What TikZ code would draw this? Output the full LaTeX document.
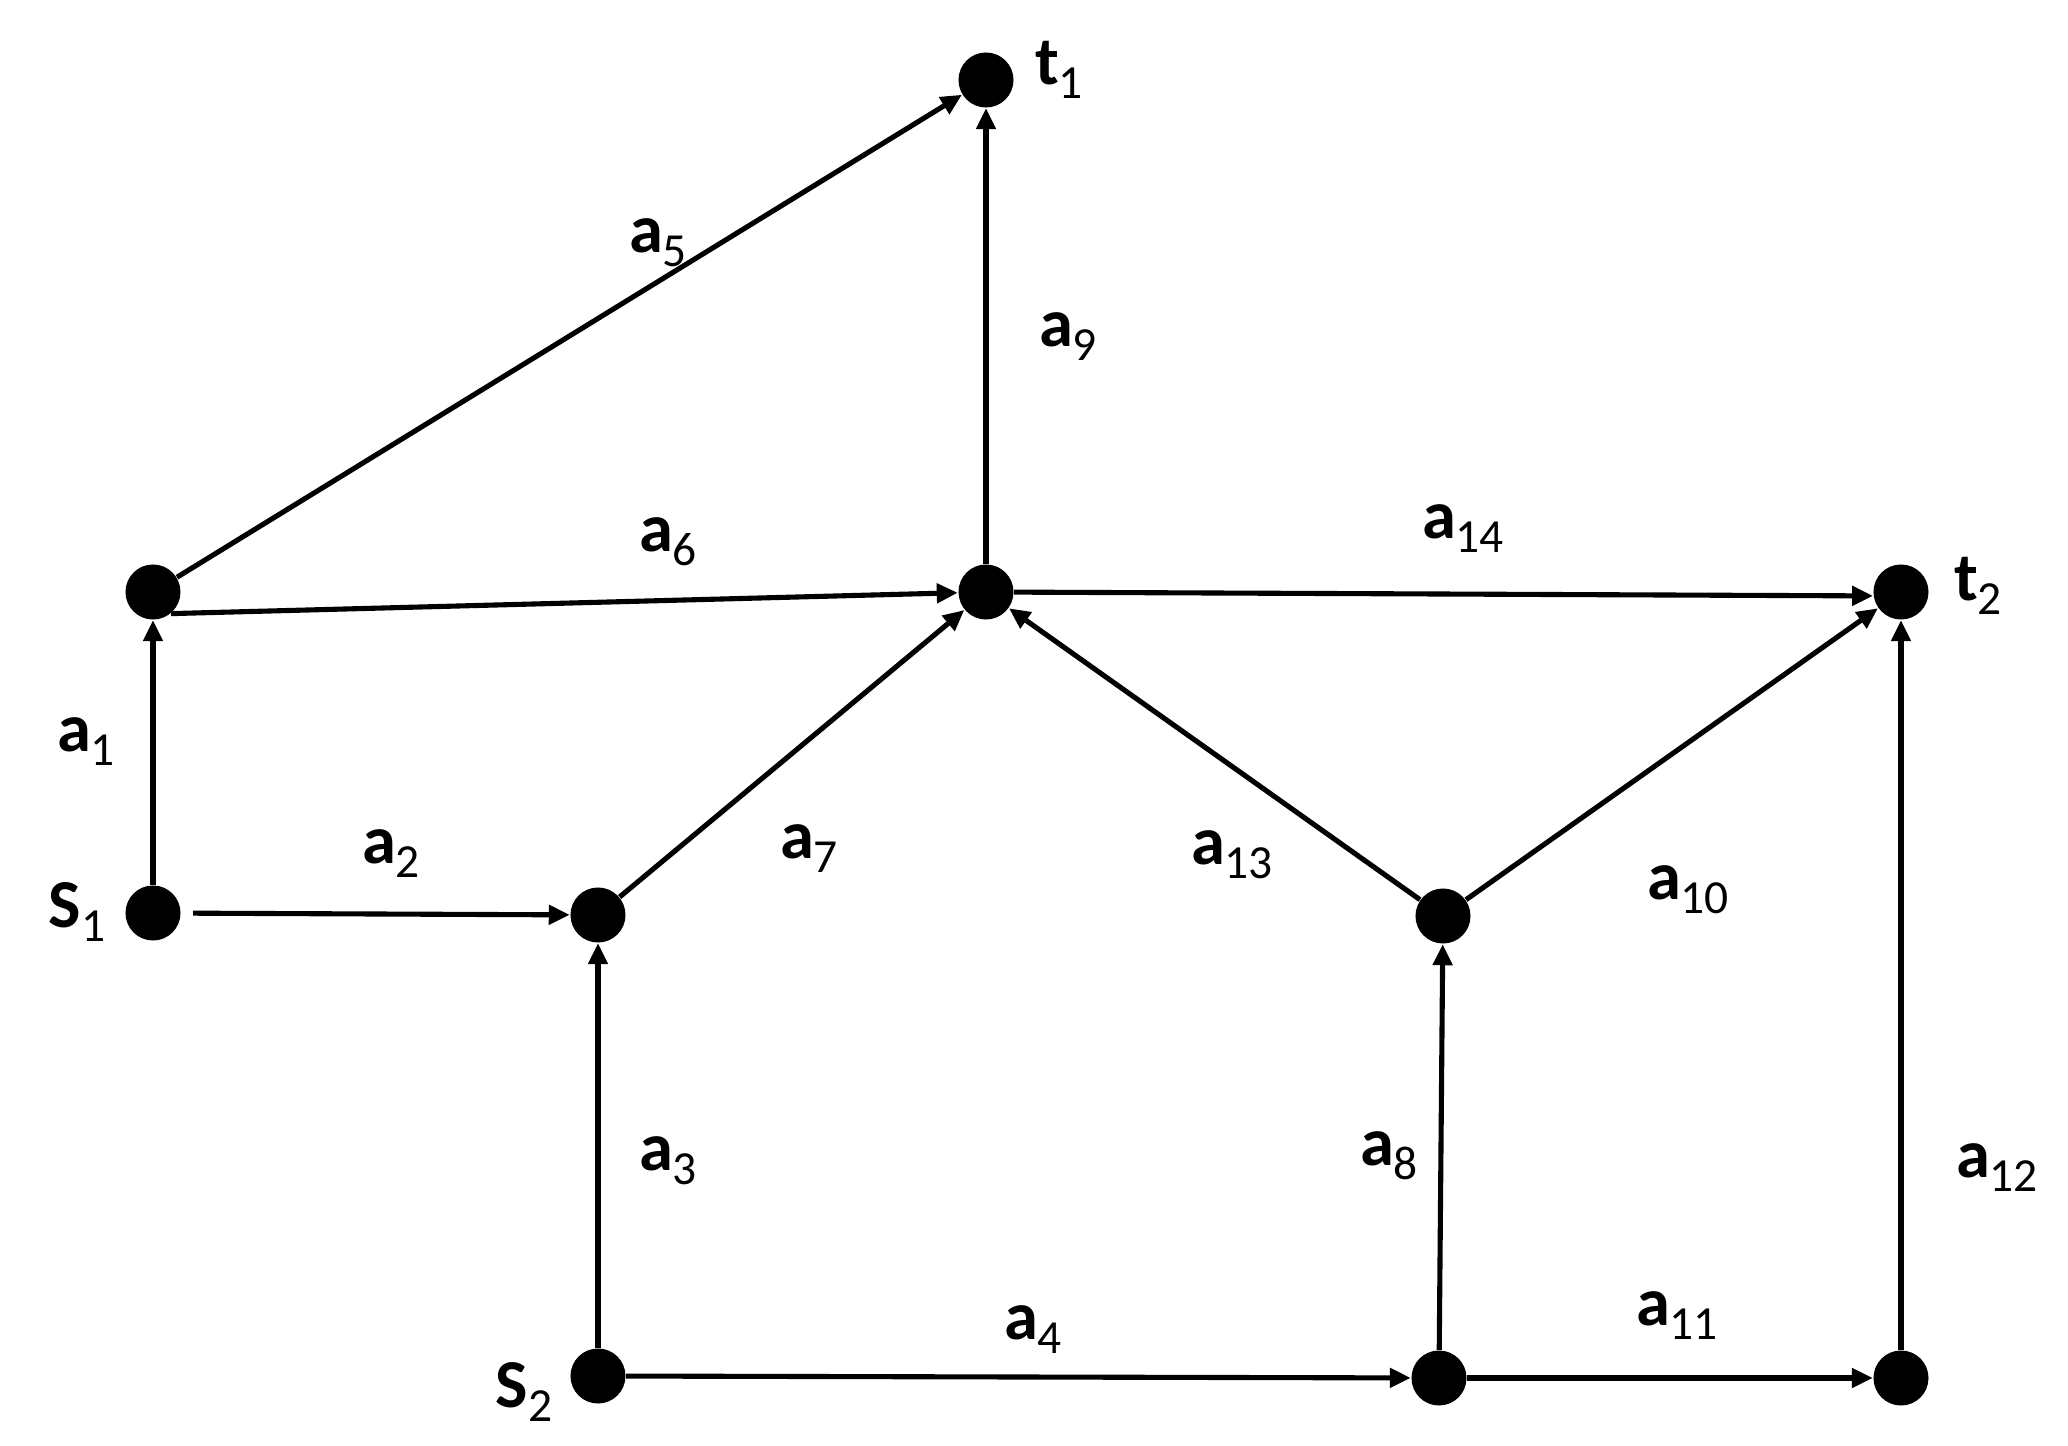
\documentclass[tikz,border=0pt]{standalone}
\usepackage{fontspec}
\setmainfont{Carlito}
\usetikzlibrary{arrows.meta}
\newcommand{\lbl}[2]{\textbf{#1}\raisebox{-4pt}{\fontsize{13.5}{14}\selectfont #2}}
\tikzset{
  dot/.style={circle,fill=black,draw=none,minimum size=0.55cm,inner sep=0pt},
  arr/.style={line width=1.45pt,-{Triangle[length=0.21cm,width=0.19cm]}},
  lab/.style={font=\fontsize{19.5}{22}\selectfont,inner sep=0pt,anchor=center}
}
\begin{document}
\begin{tikzpicture}[x=0.01cm,y=-0.01cm]
\useasboundingbox (0,0) rectangle (2068,1446);
% vertices
\node[dot] (t1) at (986,80) {};
\node[dot] (A)  at (153,592) {};
\node[dot] (C)  at (986,592) {};
\node[dot] (t2) at (1901,592) {};
\node[dot] (S1) at (153,913) {};
\node[dot] (B)  at (598,915) {};
\node[dot] (D)  at (1443,916) {};
\node[dot] (S2) at (598,1376) {};
\node[dot] (E)  at (1439,1378) {};
\node[dot] (F)  at (1901,1378) {};
% vertex labels
\node[lab] (lt1) at (1059,70) {\lbl{t}{1}};
\node[lab] (lt2) at (1978,586) {\lbl{t}{2}};
\node[lab] (lS1) at (77,912) {\lbl{S}{1}};
\node[lab] (lS2) at (524,1392) {\lbl{S}{2}};
% edges
\draw[arr] (S1) -- (A);
\draw[arr,shorten <=0.12cm] (S1) -- (B);
\draw[arr] (S2) -- (B);
\draw[arr] (S2) -- (E);
\draw[arr] (A) -- (t1);
\draw[arr] (A.-50) -- (C);
\draw[arr] (B) -- (C);
\draw[arr] (E) -- (D);
\draw[arr] (C) -- (t1);
\draw[arr] (D) -- (t2);
\draw[arr] (E) -- (F);
\draw[arr] (F) -- (t2);
\draw[arr] (D) -- (C);
\draw[arr] (C) -- (t2.188);
% edge labels
\node[lab] (l1)  at (86,742)   {\lbl{a}{1}};
\node[lab] (l2)  at (391,854)  {\lbl{a}{2}};
\node[lab] (l3)  at (668,1161) {\lbl{a}{3}};
\node[lab] (l4)  at (1033,1330) {\lbl{a}{4}};
\node[lab] (l5)  at (658,243)  {\lbl{a}{5}};
\node[lab] (l6)  at (668,542)  {\lbl{a}{6}};
\node[lab] (l7)  at (809,849)  {\lbl{a}{7}};
\node[lab] (l8)  at (1389,1156) {\lbl{a}{8}};
\node[lab] (l9)  at (1068,337) {\lbl{a}{9}};
\node[lab] (l10) at (1688,890) {\lbl{a}{10}};
\node[lab] (l11) at (1677,1316) {\lbl{a}{11}};
\node[lab] (l12) at (1997,1168) {\lbl{a}{12}};
\node[lab] (l13) at (1232,855) {\lbl{a}{13}};
\node[lab] (l14) at (1463,529) {\lbl{a}{14}};
\end{tikzpicture}
\end{document}
